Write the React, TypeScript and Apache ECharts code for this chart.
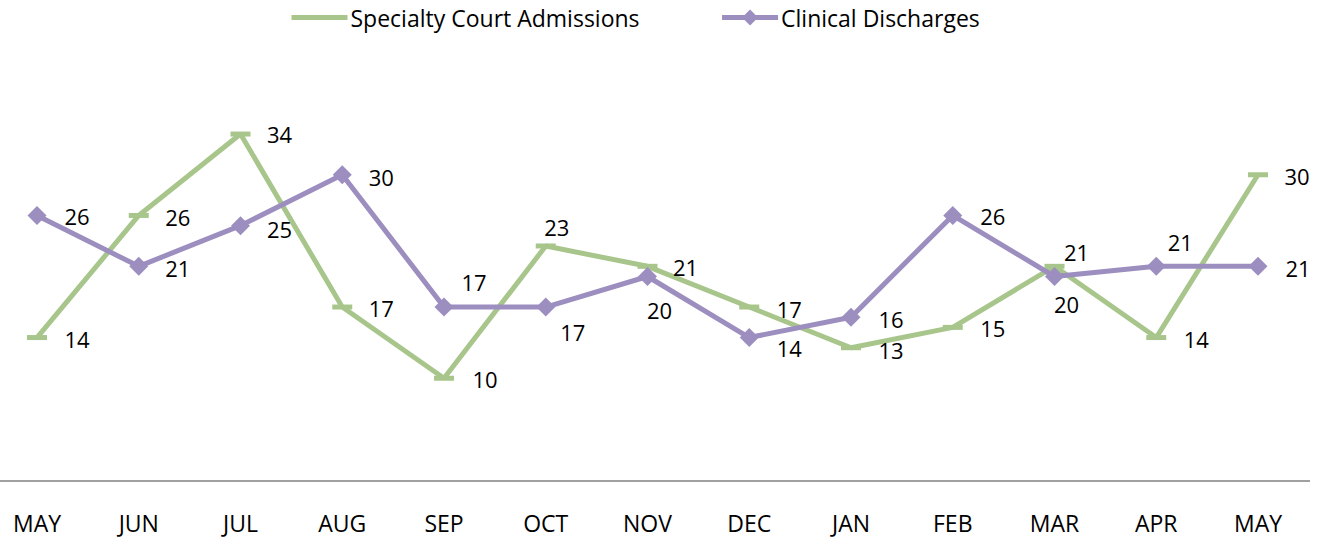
import React, { useEffect, useRef } from "react";
import * as echarts from "echarts";

const months = ["MAY", "JUN", "JUL", "AUG", "SEP", "OCT", "NOV", "DEC", "JAN", "FEB", "MAR", "APR", "MAY"];
const admissions = [14, 26, 34, 17, 10, 23, 21, 17, 13, 15, 21, 14, 30];
const discharges = [26, 21, 25, 30, 17, 17, 20, 14, 16, 26, 20, 21, 21];

const GREEN = "#A8C68C";
const PURPLE = "#9D8EC0";
const FONT = "'Open Sans', sans-serif";

// label offsets (label centre relative to the point), pixels
const admissionsLabelOffsets: [number, number][] = [
  [40, 1], [39, 2], [39, 0], [39, 1], [41, 1], [11, -19], [38, 1], [40, 2], [40, 2], [40, 1], [22, -14], [40, 1], [39, 1],
];
const dischargesLabelOffsets: [number, number][] = [
  [40, 1], [39, 2], [39, 3], [39, 2], [30, -25], [27, 25], [12, 33], [40, 10], [40, 2], [40, 1], [12, 27], [24, -24], [40, 2],
];

function withLabels(values: number[], offsets: [number, number][]) {
  return values.map((v, i) => ({
    value: v,
    label: { offset: offsets[i] },
  }));
}

export default function App() {
  const ref = useRef<HTMLDivElement>(null);
  useEffect(() => {
    if (!ref.current) return;
    const chart = echarts.init(ref.current, null, { renderer: "svg" });
    const labelBase = {
      show: true,
      position: "inside" as const,
      align: "center" as const,
      verticalAlign: "middle" as const,
      color: "#000",
      fontSize: 22,
      fontFamily: FONT,
    };
    chart.setOption({
      animation: false,
      legend: {
        left: 289,
        top: 6,
        padding: 0,
        itemWidth: 56,
        itemHeight: 20,
        itemGap: 80,
        lineStyle: { width: 5 },
        textStyle: { fontSize: 23, fontFamily: FONT, color: "#000", padding: [0, 0, 0, -2] },
        data: [
          { name: "Specialty Court Admissions", itemStyle: { color: "rgba(0,0,0,0)", borderWidth: 0 } },
          { name: "Clinical Discharges" },
        ],
      },
      grid: { left: 37, right: 68, top: 73, bottom: 60 },
      xAxis: {
        type: "category",
        data: months,
        boundaryGap: false,
        axisLine: { show: false },
        axisTick: { show: false },
        axisLabel: { color: "#000", fontSize: 23, fontFamily: FONT, margin: 31 },
      },
      yAxis: {
        type: "value",
        min: 0,
        max: 40,
        show: false,
        splitLine: { show: false },
      },
      graphic: [
        {
          type: "line",
          shape: { x1: 0, y1: 481, x2: 1310, y2: 481 },
          style: { stroke: "#a0a0a0", lineWidth: 2 },
          z: 0,
        },
      ],
      series: [
        {
          name: "Specialty Court Admissions",
          type: "line",
          data: withLabels(admissions, admissionsLabelOffsets),
          symbol: "rect",
          symbolSize: [20, 5],
          color: GREEN,
          itemStyle: { color: GREEN },
          lineStyle: { color: GREEN, width: 5 },
          label: labelBase,
          z: 2,
        },
        {
          name: "Clinical Discharges",
          type: "line",
          data: withLabels(discharges, dischargesLabelOffsets),
          symbol: "diamond",
          symbolSize: [19, 19],
          color: PURPLE,
          itemStyle: { color: PURPLE },
          lineStyle: { color: PURPLE, width: 5 },
          label: labelBase,
          z: 3,
        },
      ],
    });
    return () => chart.dispose();
  }, []);
  return (
    <div
      ref={ref}
      style={{ position: "fixed", left: 0, top: 0, width: 1326, height: 540, background: "#fff" }}
    />
  );
}
